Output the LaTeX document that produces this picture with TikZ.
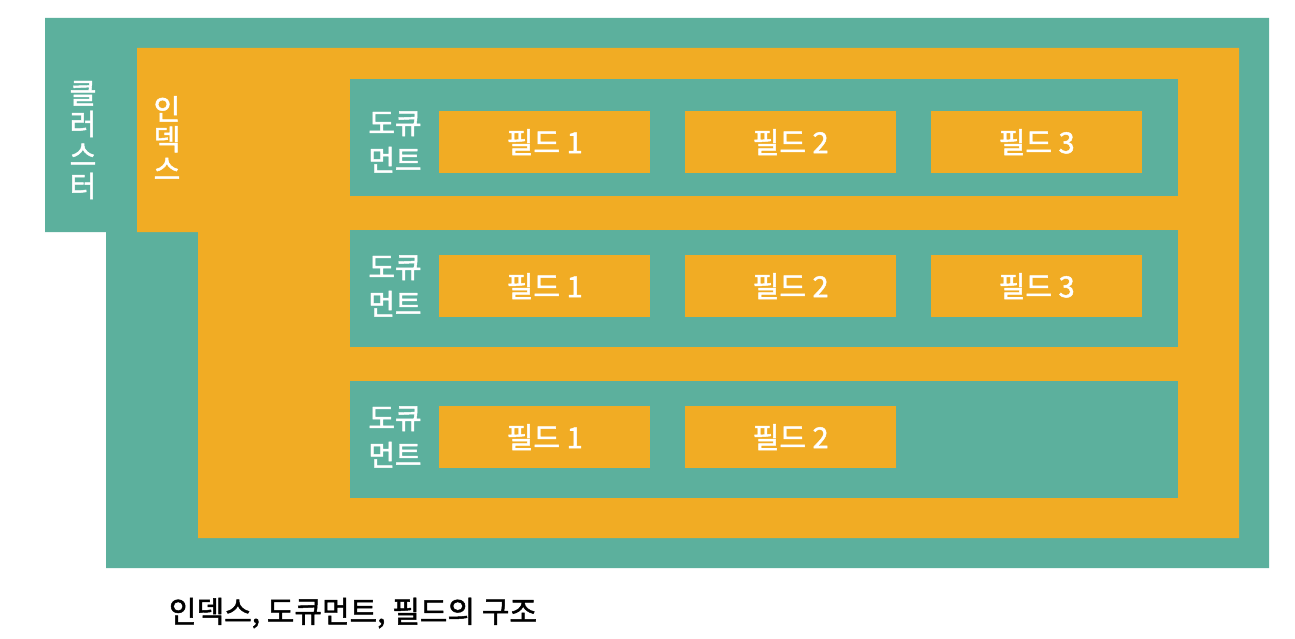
\documentclass[tikz,border=0pt]{standalone}
\usepackage{fontspec}
\setmainfont{Noto Sans CJK KR}
\newfontfamily\medfont{Noto Sans CJK KR}[UprightFeatures={FakeBold=1.6}]
\usetikzlibrary{positioning}

\definecolor{teal}{HTML}{5CB09D}
\definecolor{amber}{HTML}{F1AC24}

\tikzset{
	doc/.style={fill=teal,anchor=north west,inner sep=0pt,
		minimum width=828pt,minimum height=117pt},
	field/.style={fill=amber,anchor=north west,inner sep=0pt,text=white,
		minimum width=211pt,minimum height=62pt,
		font=\medfont\fontsize{29}{32}\selectfont},
	tag/.style={text=white,align=center,inner sep=0pt}
}

\begin{document}
\begin{tikzpicture}[x=1pt,y=-1pt]

\useasboundingbox (0,0) rectangle (1295,639);

% cluster
\fill[color=teal]
	(45,18)--(1269,18)--(1269,568)--(106,568)--(106,232)--(45,232)--cycle;
\node[tag,font=\medfont\fontsize{29}{31}\selectfont] (cluster) at (83,140)
	{클\\러\\스\\터};

% index
\fill[color=amber]
	(137,48)--(1239,48)--(1239,538)--(198,538)--(198,232)--(137,232)--cycle;
\node[tag,font=\medfont\fontsize{29}{30}\selectfont] (index) at (167,138)
	{인\\덱\\스};

% documents
\foreach \d/\t/\f/\n in {1/79/111/3,2/230/255/3,3/381/406/2}{
	\node[doc] (doc\d) at (350,\t) {};
	\node[tag,font=\medfont\fontsize{29}{37}\selectfont] (doclabel\d) at (395,\f+31)
		{도큐\\먼트};
	\foreach \k/\x in {1/439,2/685,3/931}{
		\ifnum\k>\n\else
		\node[field] (field\d\k) at (\x,\f) {필드 \k};
		\fi
	}
}

\node[font=\medfont\fontsize{30}{32}\selectfont] (caption) at (353,613)
	{인덱스, 도큐먼트, 필드의 구조};

\end{tikzpicture}
\end{document}
